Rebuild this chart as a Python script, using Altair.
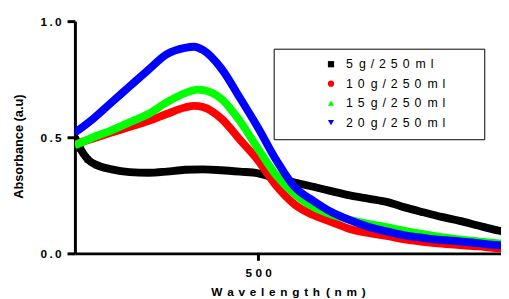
import altair as alt
import pandas as pd

# ---- data ----
series_names = ["5 g/250 ml", "10 g/250 ml", "15 g/250 ml", "20 g/250 ml"]
series_colors = ["#000000", "#ff0000", "#00ff00", "#0000ff"]
series_shapes = ["square", "circle", "triangle-up", "triangle-down"]

wl_black = [400, 403, 407, 412, 420, 430, 440, 450, 460, 470, 480, 490, 500, 510, 520,
            530, 540, 550, 560, 570, 580, 590, 600, 610, 620, 630, 640]
abs_black = [0.50, 0.45, 0.405, 0.38, 0.362, 0.35, 0.347, 0.352, 0.36, 0.362, 0.358, 0.352,
             0.345, 0.322, 0.305, 0.287, 0.268, 0.25, 0.236, 0.222, 0.198, 0.177, 0.157,
             0.14, 0.12, 0.10, 0.085]

wl_red = [400, 410, 420, 430, 440, 450, 460, 465, 470, 480, 490, 500, 510, 520, 530, 540,
          550, 560, 570, 580, 590, 600, 610, 620, 630, 640]
abs_red = [0.47, 0.495, 0.52, 0.545, 0.57, 0.60, 0.628, 0.635, 0.63, 0.58, 0.49, 0.40, 0.29,
           0.21, 0.165, 0.135, 0.105, 0.088, 0.075, 0.06, 0.05, 0.042, 0.036, 0.03, 0.022,
           0.016]

wl_green = [400, 410, 420, 430, 440, 450, 460, 467, 470, 480, 490, 500, 510, 520, 530, 540,
            550, 560, 570, 580, 590, 600, 610, 620, 630, 640]
abs_green = [0.465, 0.50, 0.53, 0.565, 0.60, 0.65, 0.69, 0.705, 0.703, 0.665, 0.57, 0.45,
             0.335, 0.255, 0.20, 0.167, 0.145, 0.127, 0.113, 0.097, 0.083, 0.07, 0.06, 0.052,
             0.044, 0.038]

wl_blue = [400, 410, 420, 430, 440, 450, 460, 465, 470, 480, 490, 500, 510, 520, 530, 540,
           550, 560, 570, 580, 590, 600, 610, 620, 630, 640]
abs_blue = [0.52, 0.58, 0.65, 0.72, 0.79, 0.857, 0.885, 0.89, 0.875, 0.795, 0.67, 0.54, 0.40,
            0.285, 0.227, 0.178, 0.143, 0.115, 0.095, 0.078, 0.067, 0.058, 0.052, 0.044,
            0.036, 0.03]

y_ticks = [0.0, 0.5, 1.0]
x_ticks = [500]
x_title = "Wavelength (nm)"
y_title = "Absorbance (a.u)"

THIN = "\u2009"
GAP = THIN * 2
WORD = "\u2002"
PAD = "\u2800\u2800\u2800"


def spaced(s, gap=GAP, word=WORD):
    out = ""
    for i, ch in enumerate(s):
        if ch == " ":
            out += word
            continue
        out += ch
        if i < len(s) - 1 and s[i + 1] != " ":
            out += gap
    return out


labels = [spaced(n) + PAD for n in series_names]

rows = []
for lab, wls, vals in zip(labels, [wl_black, wl_red, wl_green, wl_blue],
                          [abs_black, abs_red, abs_green, abs_blue]):
    for w, a in zip(wls, vals):
        rows.append({"series": lab, "wl": w, "abs": a})
df = pd.DataFrame(rows)

color_scale = alt.Scale(domain=labels, range=series_colors)
shape_scale = alt.Scale(domain=labels, range=series_shapes)

x_enc = alt.X("wl:Q", scale=alt.Scale(domain=[400, 632.5], nice=False, zero=False),
              axis=alt.Axis(values=x_ticks, title=spaced(x_title, THIN * 2, "\u2002"),
                            labelExpr="'5\u2009\u200a0\u2009\u200a0'",
                            tickSize=7, labelPadding=16, labelBaseline="alphabetic",
                            titleY=42.5, titleBaseline="alphabetic"))
y_enc = alt.Y("abs:Q", scale=alt.Scale(domain=[0, 1], nice=False),
              axis=alt.Axis(values=y_ticks, title=y_title,
                            labelExpr="replace(format(datum.value, '.1f'), '.', '\u2009.\u2009')",
                            tickSize=8, labelPadding=6,
                            titleX=-57, titleY=127, titleAngle=270,
                            titleAlign="center", titleBaseline="middle",
                            titleFontSize=13))

# invisible (white) legend title, placed at the left of the box to leave the
# blank margin before the symbols seen in the reference
legend_title = "M"

points = alt.Chart(df).mark_point(filled=True, size=40, opacity=1, clip=True).encode(
    x=x_enc, y=y_enc,
    color=alt.Color("series:N", scale=color_scale, title=legend_title,
                    legend=alt.Legend(title=legend_title)),
    shape=alt.Shape("series:N", scale=shape_scale, title=legend_title,
                    legend=alt.Legend(title=legend_title)),
)

lines = alt.Chart(df).mark_line(strokeWidth=8, interpolate="monotone", clip=True).encode(
    x=x_enc, y=y_enc,
    color=alt.Color("series:N", scale=color_scale, legend=None),
    order=alt.Order("wl:Q"),
)

chart = alt.layer(points, lines).properties(
    width=433, height=236,
    autosize=alt.AutoSizeParams(type="none"),
    padding={"left": 68, "top": 11, "right": 0, "bottom": 44},
).configure_view(stroke=None).configure_axis(
    domainColor="black", domainWidth=3, tickColor="black", tickWidth=3,
    grid=False, labelFont="Liberation Sans", labelFontWeight="bold",
    labelFontSize=12, labelColor="black",
    titleFont="Liberation Sans", titleFontWeight="bold", titleFontSize=12,
    titleColor="black",
).configure_legend(
    orient="none", legendX=202, legendY=28, padding=9.5,
    strokeColor="black", strokeWidth=1, fillColor="white",
    titleOrient="left", titleFontSize=12.5, titleFont="Liberation Sans",
    titleFontWeight="normal", titleColor="white", titlePadding=5,
    labelFont="Liberation Sans", labelFontSize=12.5, labelColor="black",
    labelAlign="left",
    symbolOffset=26.5, labelOffset=9, rowPadding=6.8, symbolSize=40,
    symbolStrokeWidth=0,
)

chart.save("out.html", embed_options={"renderer": "svg", "actions": False})
